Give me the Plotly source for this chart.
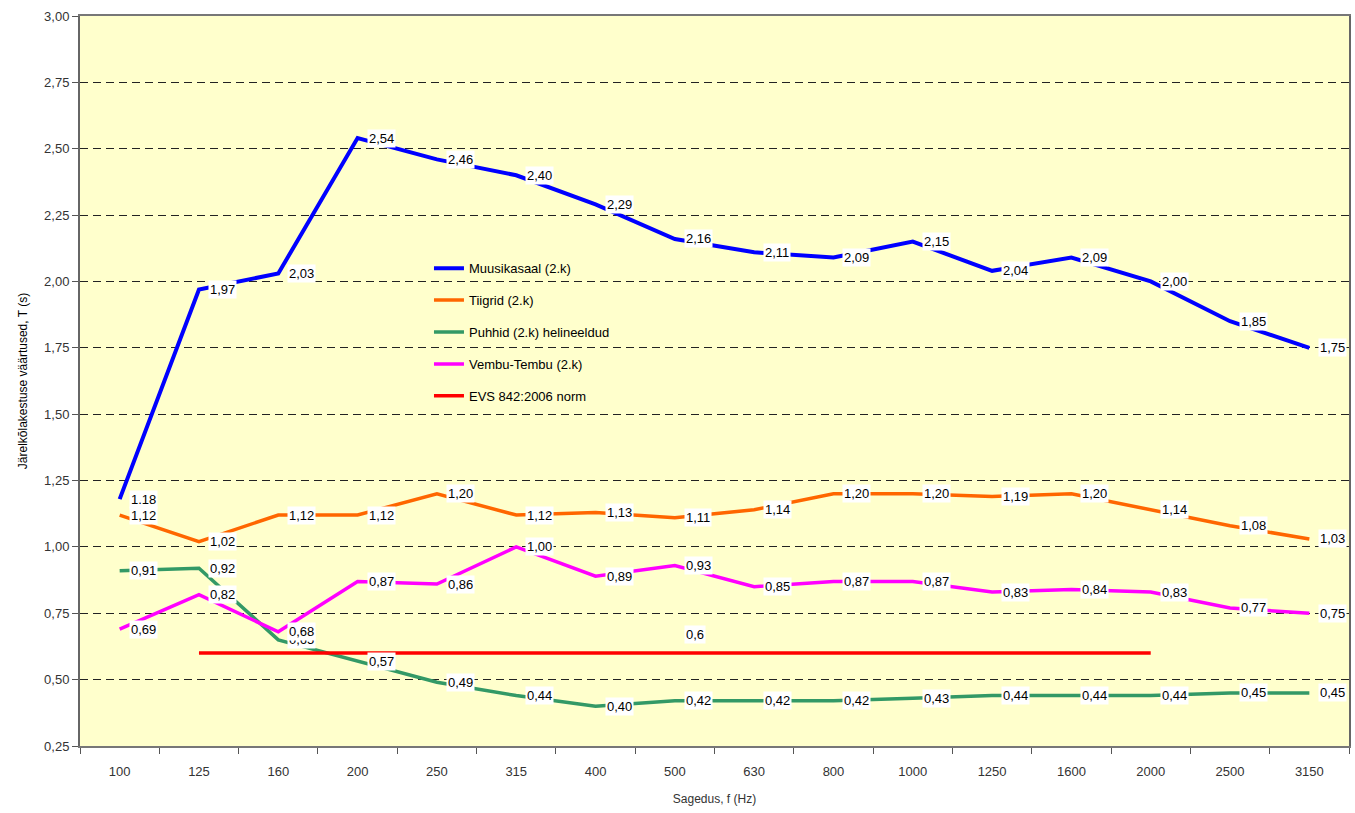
import plotly.graph_objects as go

categories = ["100", "125", "160", "200", "250", "315", "400", "500", "630",
              "800", "1000", "1250", "1600", "2000", "2500", "3150"]

muusikasaal = [1.18, 1.97, 2.03, 2.54, 2.46, 2.40, 2.29, 2.16, 2.11, 2.09, 2.15, 2.04, 2.09, 2.00, 1.85, 1.75]
tiigrid = [1.12, 1.02, 1.12, 1.12, 1.20, 1.12, 1.13, 1.11, 1.14, 1.20, 1.20, 1.19, 1.20, 1.14, 1.08, 1.03]
puhhid = [0.91, 0.92, 0.65, 0.57, 0.49, 0.44, 0.40, 0.42, 0.42, 0.42, 0.43, 0.44, 0.44, 0.44, 0.45, 0.45]
vembu = [0.69, 0.82, 0.68, 0.87, 0.86, 1.00, 0.89, 0.93, 0.85, 0.87, 0.87, 0.83, 0.84, 0.83, 0.77, 0.75]
norm = [None, 0.6, 0.6, 0.6, 0.6, 0.6, 0.6, 0.6, 0.6, 0.6, 0.6, 0.6, 0.6, 0.6, None, None]

names = ["Muusikasaal (2.k)", "Tiigrid (2.k)", "Puhhid (2.k) helineeldud",
         "Vembu-Tembu (2.k)", "EVS 842:2006 norm"]
colors = ["#0000FF", "#FF6600", "#339966", "#FF00FF", "#FF0000"]
series = [muusikasaal, tiigrid, puhhid, vembu, norm]

FONT = "Liberation Sans, Arial, sans-serif"


def fmt(v):
    return f"{v:.2f}".replace(".", ",")


fig = go.Figure()
for i, (name, col, vals) in enumerate(zip(names, colors, series)):
    fig.add_trace(go.Scatter(
        x=categories, y=vals, mode="lines", name=name,
        line=dict(color=col, width=4 if i == 0 else 3.5),
        legendgroup=f"g{i}",
    ))

annotations = []
# label order: orange, blue, green, magenta (magenta on top of green)
for idx in [1, 0, 2, 3]:
    vals = series[idx]
    for j, v in enumerate(vals):
        txt = fmt(v)
        yshift = 0
        if idx == 0 and j == 0:
            txt = "1.18"
        annotations.append(dict(
            x=j, y=v, xref="x", yref="y", text=txt, showarrow=False,
            xanchor="left", yanchor="middle", xshift=9, yshift=yshift,
            bgcolor="white", borderpad=1,
            font=dict(family=FONT, size=13, color="black"),
        ))
# single label of the norm line (at category "500")
annotations.append(dict(
    x=categories.index("500"), y=0.6, xref="x", yref="y", text="0,6",
    showarrow=False, xanchor="left", yanchor="middle", xshift=9, yshift=19,
    bgcolor="white", borderpad=1,
    font=dict(family=FONT, size=13, color="black"),
))

fig.update_layout(
    width=1355, height=813,
    margin=dict(l=80, r=4, t=16, b=67),
    paper_bgcolor="white", plot_bgcolor="#FFFFCC",
    separators=", ",
    font=dict(family=FONT, size=12, color="#222"),
    showlegend=True,
    legend=dict(x=0.275, y=0.675, xanchor="left", yanchor="top",
                bgcolor="rgba(0,0,0,0)", tracegroupgap=12,
                font=dict(family=FONT, size=13, color="black")),
    annotations=annotations,
)

fig.update_xaxes(
    type="category", categoryorder="array", categoryarray=categories,
    range=[-0.5, len(categories) - 0.5], autorange=False,
    tickson="boundaries", ticks="outside", ticklen=6,
    tickcolor="#555", tickwidth=1, showline=True, linecolor="#777",
    linewidth=2, mirror=True, showgrid=False,
    ticklabelstandoff=12,
    tickfont=dict(family=FONT, size=13, color="#333"),
    title=dict(text="Sagedus, f (Hz)", standoff=17,
               font=dict(family=FONT, size=12, color="#333")),
)
fig.update_yaxes(
    range=[0.25, 3.0], autorange=False, dtick=0.25, tick0=0.25, tickformat=".2f",
    ticks="outside", ticklen=6, tickcolor="#555", tickwidth=1,
    showline=True, linecolor="#666", linewidth=2, mirror=True,
    showgrid=True, gridcolor="#222", gridwidth=1, griddash="8px,5px",
    zeroline=False,
    tickfont=dict(family=FONT, size=13, color="#333"),
    title=dict(text="Järelkõlakestuse väärtused, T (s)", standoff=14,
               font=dict(family=FONT, size=12, color="black")),
)

fig.write_html("out.html", config={"displayModeBar": False},
               post_script="document.body.style.margin='0';document.body.style.overflow='hidden';")
